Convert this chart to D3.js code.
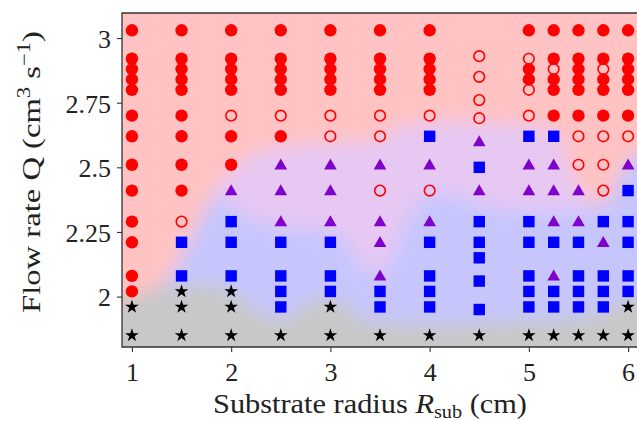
<!DOCTYPE html>
<html><head><meta charset="utf-8">
<script src="https://cdn.jsdelivr.net/npm/d3@7"></script>
<style>html,body{margin:0;padding:0;background:#fff;}svg{display:block;}</style>
</head><body>
<svg id="c" width="637" height="421"></svg>
<script>
// ---- data (R_sub in cm, Q in cm^3/s) ----
const xTicks = [1, 2, 3, 4, 5, 6];
const yTicks = [2, 2.25, 2.5, 2.75, 3];
const yTickLabels = ["2", "2.25", "2.5", "2.75", "3"];

const filledCircles = [
  [1,3.03],[1,2.92],[1,2.88],[1,2.84],[1,2.80],[1,2.70],[1,2.62],[1,2.51],[1,2.41],[1,2.29],[1,2.21],[1,2.08],[1,2.02],
  [1.5,3.03],[1.5,2.92],[1.5,2.88],[1.5,2.84],[1.5,2.80],[1.5,2.70],[1.5,2.62],[1.5,2.51],[1.5,2.41],
  [2,3.03],[2,2.92],[2,2.88],[2,2.84],[2,2.80],[2,2.62],[2,2.51],
  [2.5,3.03],[2.5,2.92],[2.5,2.88],[2.5,2.84],[2.5,2.80],[2.5,2.62],
  [3,3.03],[3,2.92],[3,2.88],[3,2.84],[3,2.80],
  [3.5,3.03],[3.5,2.92],[3.5,2.88],[3.5,2.84],[3.5,2.80],
  [4,3.03],[4,2.92],[4,2.88],[4,2.84],[4,2.80],
  [5,3.03],[5,2.88],[5,2.84],
  [5.25,3.03],[5.25,2.92],[5.25,2.84],[5.25,2.80],[5.25,2.70],
  [5.5,3.03],[5.5,2.92],[5.5,2.88],[5.5,2.84],[5.5,2.80],[5.5,2.70],
  [5.75,3.03],[5.75,2.92],[5.75,2.84],[5.75,2.80],[5.75,2.70],
  [6,3.03],[6,2.92],[6,2.88],[6,2.84],[6,2.80],[6,2.70]
];
const openCircles = [
  [1.5,2.29],
  [2,2.70],
  [2.5,2.70],
  [3,2.70],[3,2.62],
  [3.5,2.70],[3.5,2.62],[3.5,2.41],
  [4,2.70],[4,2.41],
  [4.5,2.93],[4.5,2.85],[4.5,2.76],[4.5,2.69],
  [5,2.92],[5,2.80],[5,2.70],
  [5.25,2.88],
  [5.5,2.62],[5.5,2.51],
  [5.75,2.88],[5.75,2.62],[5.75,2.51],[5.75,2.41],
  [6,2.62]
];
const squares = [
  [1.5,2.21],[1.5,2.08],
  [2,2.29],[2,2.21],[2,2.08],
  [2.5,2.21],[2.5,2.08],[2.5,2.02],[2.5,1.96],
  [3,2.21],[3,2.08],[3,2.02],
  [3.5,2.02],[3.5,1.96],
  [4,2.62],[4,2.21],[4,2.08],[4,2.02],[4,1.96],
  [4.5,2.50],[4.5,2.29],[4.5,2.21],[4.5,2.15],[4.5,2.06],[4.5,1.95],
  [5,2.62],[5,2.29],[5,2.21],[5,2.08],[5,2.02],[5,1.96],
  [5.25,2.62],[5.25,2.21],[5.25,2.02],[5.25,1.96],
  [5.5,2.21],[5.5,2.08],[5.5,2.02],[5.5,1.96],
  [5.75,2.29],[5.75,2.08],[5.75,2.02],[5.75,1.96],
  [6,2.41],[6,2.29],[6,2.21],[6,2.08],[6,2.02]
];
const triangles = [
  [2,2.41],
  [2.5,2.51],[2.5,2.41],[2.5,2.29],
  [3,2.51],[3,2.41],[3,2.29],
  [3.5,2.51],[3.5,2.29],[3.5,2.21],[3.5,2.08],
  [4,2.51],[4,2.29],
  [4.5,2.60],[4.5,2.41],
  [5,2.51],[5,2.41],
  [5.25,2.51],[5.25,2.41],[5.25,2.29],[5.25,2.08],
  [5.5,2.41],[5.5,2.29],
  [5.75,2.21],
  [6,2.51]
];
const stars = [
  [1,1.96],[1,1.85],
  [1.5,2.02],[1.5,1.96],[1.5,1.85],
  [2,2.02],[2,1.96],[2,1.85],
  [2.5,1.85],
  [3,1.96],[3,1.85],
  [3.5,1.85],
  [4,1.85],
  [4.5,1.85],
  [5,1.85],[5.25,1.85],[5.5,1.85],[5.75,1.85],
  [6,1.96],[6,1.85]
];

// regime boundaries (data coords)
const spreadRegion = [ // blue + purple union
  [0.6,1.97],[0.9,1.987],[1.18,2.018],[1.38,2.084],[1.585,2.219],[1.736,2.335],[1.888,2.432],
  [2.089,2.509],[2.341,2.567],[2.694,2.583],[3.097,2.594],[3.5,2.606],[3.701,2.652],[4.004,2.675],
  [4.407,2.675],[4.81,2.664],[5.162,2.652],[5.313,2.586],[5.414,2.47],[5.565,2.393],[5.717,2.354],
  [5.837,2.393],[5.918,2.47],[6.019,2.528],[6.35,2.567],[6.35,1.6],[0.6,1.6]
];
const mixedRegion = [
  [1.837,2.412],[2.089,2.509],[2.341,2.567],[2.694,2.583],[3.097,2.594],[3.5,2.606],[3.701,2.652],
  [4.004,2.675],[4.407,2.675],[4.81,2.664],[5.162,2.652],[5.33,2.59],[5.44,2.47],[5.565,2.393],
  [5.666,2.354],[5.313,2.33],[4.91,2.335],[4.507,2.354],[4.205,2.393],[4.004,2.393],[3.802,2.316],
  [3.651,2.18],[3.48,2.083],[3.298,2.122],[3.147,2.219],[2.996,2.25],[2.694,2.265],[2.492,2.265],
  [2.24,2.296],[1.988,2.354]
];
const noSpreadRegion = [
  [0.6,1.995],[0.981,1.995],[1.132,2.025],[1.484,2.041],[1.837,2.041],[2.089,1.995],[2.341,1.929],
  [2.543,1.917],[2.744,1.967],[2.946,1.998],[3.147,1.975],[3.349,1.909],[3.701,1.898],[4.205,1.89],
  [4.709,1.902],[5.213,1.909],[5.616,1.929],[5.868,1.967],[6.019,1.995],[6.35,2.006],[6.35,1.6],[0.6,1.6]
];

// ---- drawing ----
const svg = d3.select("#c");
const X0 = 122, X1 = 643, Y0 = 347, Y1 = 13;
const x = d3.scaleLinear().domain([0.9, 6.15]).range([X0, X1]);
const y = d3.scaleLinear().domain([1.805, 3.097]).range([Y0, Y1]);

const defs = svg.append("defs");
defs.append("clipPath").attr("id", "plotclip").append("rect")
  .attr("x", X0).attr("y", Y1).attr("width", X1 - X0).attr("height", Y0 - Y1);
const f = defs.append("filter").attr("id", "blur")
  .attr("x", -0.2).attr("y", -0.2).attr("width", 1.4).attr("height", 1.4);
f.append("feGaussianBlur").attr("stdDeviation", 9);

const bgClip = svg.append("g").attr("clip-path", "url(#plotclip)");
const bg = bgClip.append("g").attr("filter", "url(#blur)");
bg.append("rect").attr("x", x(0.5)).attr("y", y(3.3)).attr("width", x(6.5) - x(0.5))
  .attr("height", y(1.6) - y(3.3)).attr("fill", "#ffc3c3");
const line = d3.line().x(d => x(d[0])).y(d => y(d[1])).curve(d3.curveCatmullRomClosed.alpha(0.5));
bg.append("path").attr("d", line(spreadRegion)).attr("fill", "#c6c6fd");
bg.append("path").attr("d", line(mixedRegion)).attr("fill", "#e6c8f3");
bg.append("path").attr("d", line(noSpreadRegion)).attr("fill", "#c8c8c8");

// axes
const fontFam = "'Liberation Serif', 'Times New Roman', serif";
const xAxis = svg.append("g").attr("transform", `translate(0,${Y0})`)
  .call(d3.axisBottom(x).tickValues(xTicks).tickSize(5).tickPadding(5).tickFormat(d3.format("d")));
const yAxis = svg.append("g").attr("transform", `translate(${X0},0)`)
  .call(d3.axisLeft(y).tickValues(yTicks).tickSize(5).tickPadding(6).tickFormat((d, i) => yTickLabels[i]));
[xAxis, yAxis].forEach(a => {
  a.select(".domain").remove();
  a.selectAll("line").attr("stroke", "#333").attr("stroke-width", 1.1);
  a.selectAll("text").attr("font-family", fontFam).attr("font-size", 26).attr("fill", "#222");
});
xAxis.selectAll("text").attr("dy", "0.92em");
yAxis.selectAll("text").attr("dy", "0.36em");

// frame (left, top, bottom)
svg.append("path").attr("d", `M${X1},${Y1}H${X0}V${Y0}H${X1}`)
  .attr("fill", "none").attr("stroke", "#333").attr("stroke-width", 1.3);

// markers
const mk = svg.append("g").attr("clip-path", "url(#plotclip)");
mk.selectAll("circle.f").data(filledCircles).join("circle")
  .attr("cx", d => x(d[0])).attr("cy", d => y(d[1])).attr("r", 6.2).attr("fill", "#ff0000");
mk.selectAll("circle.o").data(openCircles).join("circle")
  .attr("cx", d => x(d[0])).attr("cy", d => y(d[1])).attr("r", 5.3)
  .attr("fill", "none").attr("stroke", "#ff0000").attr("stroke-width", 1.6);
mk.selectAll("path.s").data(squares).join("path")
  .attr("transform", d => `translate(${x(d[0])},${y(d[1])})`)
  .attr("d", d3.symbol(d3.symbolSquare, 130)()).attr("fill", "#0000ff");
mk.selectAll("path.t").data(triangles).join("path")
  .attr("transform", d => `translate(${x(d[0])},${y(d[1]) + 1})`)
  .attr("d", d3.symbol(d3.symbolTriangle, 70)()).attr("fill", "#8000cc");
mk.selectAll("path.st").data(stars).join("path")
  .attr("transform", d => `translate(${x(d[0])},${y(d[1])})`)
  .attr("d", d3.symbol(d3.symbolStar, 58)()).attr("fill", "#000");

// axis titles
const xl = svg.append("text").attr("x", 370).attr("y", 413).attr("text-anchor", "middle")
  .attr("font-family", fontFam).attr("font-size", 27).attr("fill", "#222")
  .attr("textLength", 314).attr("lengthAdjust", "spacingAndGlyphs");
xl.append("tspan").text("Substrate radius ");
xl.append("tspan").attr("font-style", "italic").text("R");
xl.append("tspan").attr("font-size", 18).attr("dy", 5).text("sub");
xl.append("tspan").attr("dy", -5).text(" (cm)");

const yl = svg.append("text").attr("transform", "translate(40,172) rotate(-90)").attr("text-anchor", "middle")
  .attr("font-family", fontFam).attr("font-size", 26).attr("fill", "#222")
  .attr("textLength", 282).attr("lengthAdjust", "spacingAndGlyphs");
yl.append("tspan").text("Flow rate Q (cm");
yl.append("tspan").attr("font-size", 18).attr("dy", -10).text("3");
yl.append("tspan").attr("dy", 10).text(" s");
yl.append("tspan").attr("font-size", 18).attr("dy", -10).text("\u22121");
yl.append("tspan").attr("dy", 10).text(")");
</script>
</body></html>
